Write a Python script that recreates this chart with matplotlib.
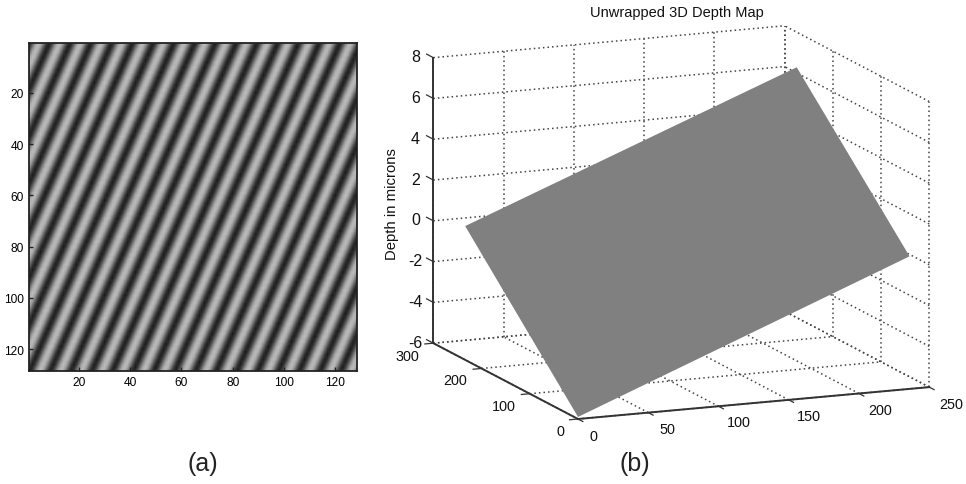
import matplotlib
matplotlib.use('Agg')
import matplotlib.pyplot as plt
import numpy as np
from mpl_toolkits.mplot3d import proj3d

plt.rcParams['font.family'] = ['Liberation Sans', 'DejaVu Sans']

W, H = 966, 485

# panel (a): fringe pattern
image_size = 128
fringe_period = 8.1
fringe_shift_per_row = 0.44
fringe_first_peak = 12.3
fringe_profile = [190, 172, 115, 55, 25, 55, 115, 172]
image_ticks = [20, 40, 60, 80, 100, 120]

# panel (b): tilted plane
x_ticks = [0, 50, 100, 150, 200, 250]
y_ticks = [0, 100, 200, 300]
z_ticks = [-6, -4, -2, 0, 2, 4, 6, 8]
plane_x = [0, 236]
plane_y = [0, 234]
plane_z = [[-5.9, 0.5], [0.56, 6.87]]

title_b = 'Unwrapped 3D Depth Map'
zlabel_b = 'Depth in microns'

fig = plt.figure(figsize=(W / 100, H / 100), dpi=100)
fig.patch.set_facecolor('white')

# ---- (a) ----
ax1 = fig.add_axes([29 / W, 1 - 372 / H, 328 / W, 328 / H])
cols, rows = np.meshgrid(np.arange(1, image_size + 1), np.arange(1, image_size + 1))
phase = (cols - fringe_first_peak + fringe_shift_per_row * (rows - 1)) / fringe_period
phase = phase % 1 * len(fringe_profile)
samples = np.arange(len(fringe_profile) + 1)
fringe = np.interp(phase, samples, fringe_profile + fringe_profile[:1])
ax1.imshow(fringe, cmap='gray', vmin=0, vmax=255, aspect='auto', interpolation='bilinear',
           extent=[0.5, image_size + 0.5, image_size + 0.5, 0.5])
ax1.set_xticks(image_ticks)
ax1.set_yticks(image_ticks)
ax1.tick_params(direction='in', length=3, width=1, labelsize=8.6, pad=3.8, color='#222222')
for s in ax1.spines.values():
    s.set_linewidth(1.3)
    s.set_color('#222222')

# ---- (b) ----
ax2 = fig.add_axes([0.3, 0.1, 0.6, 0.6], projection='3d', proj_type='ortho')
ax2.view_init(elev=12.6, azim=-112.6)
ax2.set_box_aspect((381, 377, 293))
ax2.set_xlim(x_ticks[0], x_ticks[-1], view_margin=0)
ax2.set_ylim(y_ticks[0], y_ticks[-1], view_margin=0)
ax2.set_zlim(z_ticks[0], z_ticks[-1], view_margin=0)
ax2.set_axis_off()
ax2.computed_zorder = False

x0, x1 = x_ticks[0], x_ticks[-1]
y0, y1 = y_ticks[0], y_ticks[-1]
z0, z1 = z_ticks[0], z_ticks[-1]

grid_style = dict(color='#444444', linestyle=(0, (1, 2.0)), linewidth=1.1, zorder=1, clip_on=False)
axis_style = dict(color='#333333', linewidth=1.4, zorder=6, clip_on=False)
tick_style = dict(color='#333333', linewidth=0.9, zorder=6, clip_on=False)

for x in x_ticks:
    ax2.plot([x, x], [y0, y1], [z0, z0], **grid_style)
    ax2.plot([x, x], [y1, y1], [z0, z1], **grid_style)
for y in y_ticks:
    ax2.plot([x0, x1], [y, y], [z0, z0], **grid_style)
    ax2.plot([x1, x1], [y, y], [z0, z1], **grid_style)
for z in z_ticks:
    ax2.plot([x0, x1], [y1, y1], [z, z], **grid_style)
    ax2.plot([x1, x1], [y0, y1], [z, z], **grid_style)

X, Y = np.meshgrid(plane_x, plane_y)
ax2.plot_surface(X, Y, np.array(plane_z), color='#808080', shade=False, linewidth=0,
                 antialiased=True, zorder=5)

ax2.plot([x0, x1], [y0, y0], [z0, z0], **axis_style)
ax2.plot([x0, x0], [y0, y1], [z0, z0], **axis_style)
ax2.plot([x0, x0], [y1, y1], [z0, z1], **axis_style)
for x in x_ticks:
    ax2.plot([x, x], [y0, y0 - 10], [z0, z0], **tick_style)
for y in y_ticks:
    ax2.plot([x0, x0 - 6], [y, y], [z0, z0], **tick_style)
for z in z_ticks:
    ax2.plot([x0, x0], [y1, y1 + 14], [z, z], **tick_style)


def to_2d(x, y, z):
    px, py, _ = proj3d.proj_transform(x, y, z, ax2.get_proj())
    return float(px), float(py)


# fit the axes square so the box corners land where they are in the picture
target0 = np.array([578.0, H - 420.0])
target1 = np.array([785.0, H - 27.0])
size = 600.0
left, bottom = 300.0, 0.0
for i in range(4):
    ax2.set_position([left / W, bottom / H, size / W, size / H])
    fig.canvas.draw()
    p0 = ax2.transData.transform(to_2d(x0, y0, z0))
    p1 = ax2.transData.transform(to_2d(x1, y1, z1))
    k = np.linalg.norm(target1 - target0) / np.linalg.norm(p1 - p0)
    size = size * k
    ax2.set_position([left / W, bottom / H, size / W, size / H])
    fig.canvas.draw()
    p0 = ax2.transData.transform(to_2d(x0, y0, z0))
    left += target0[0] - p0[0]
    bottom += target0[1] - p0[1]
ax2.set_position([left / W, bottom / H, size / W, size / H])


def tick_text(label, x, y, z, dx, dy, size):
    ax2.annotate(label, to_2d(x, y, z), xytext=(dx, dy), textcoords='offset pixels',
                 ha='center', va='center', fontsize=size, color='#111111', annotation_clip=False)


x_offsets = [(15, -17), (19, -16), (20, -16), (20, -16), (21, -17), (22, -17)]
for x, off in zip(x_ticks, x_offsets):
    tick_text(str(x), x, y0, z0, off[0], off[1], 10.4)
y_offsets = [(-18, -12), (-26, -12), (-26, -12), (-26, -13)]
for y, off in zip(y_ticks, y_offsets):
    tick_text(str(y), x0, y, z0, off[0], off[1], 10.4)
for z in z_ticks:
    tick_text(str(z), x0, y1, z, -18, 1, 11.5)

fig.text(677 / W, 1 - 13 / H, title_b, ha='center', va='center', fontsize=10.5, color='#111111')
fig.text(392 / W, 1 - 204 / H, zlabel_b, ha='center', va='center', rotation=90, fontsize=10.7,
         color='#111111')
fig.text(203 / W, 1 - 464 / H, '(a)', ha='center', va='center', fontsize=18, color='#222222')
fig.text(635 / W, 1 - 464 / H, '(b)', ha='center', va='center', fontsize=18, color='#222222')

fig.savefig('out.png', dpi=100)
